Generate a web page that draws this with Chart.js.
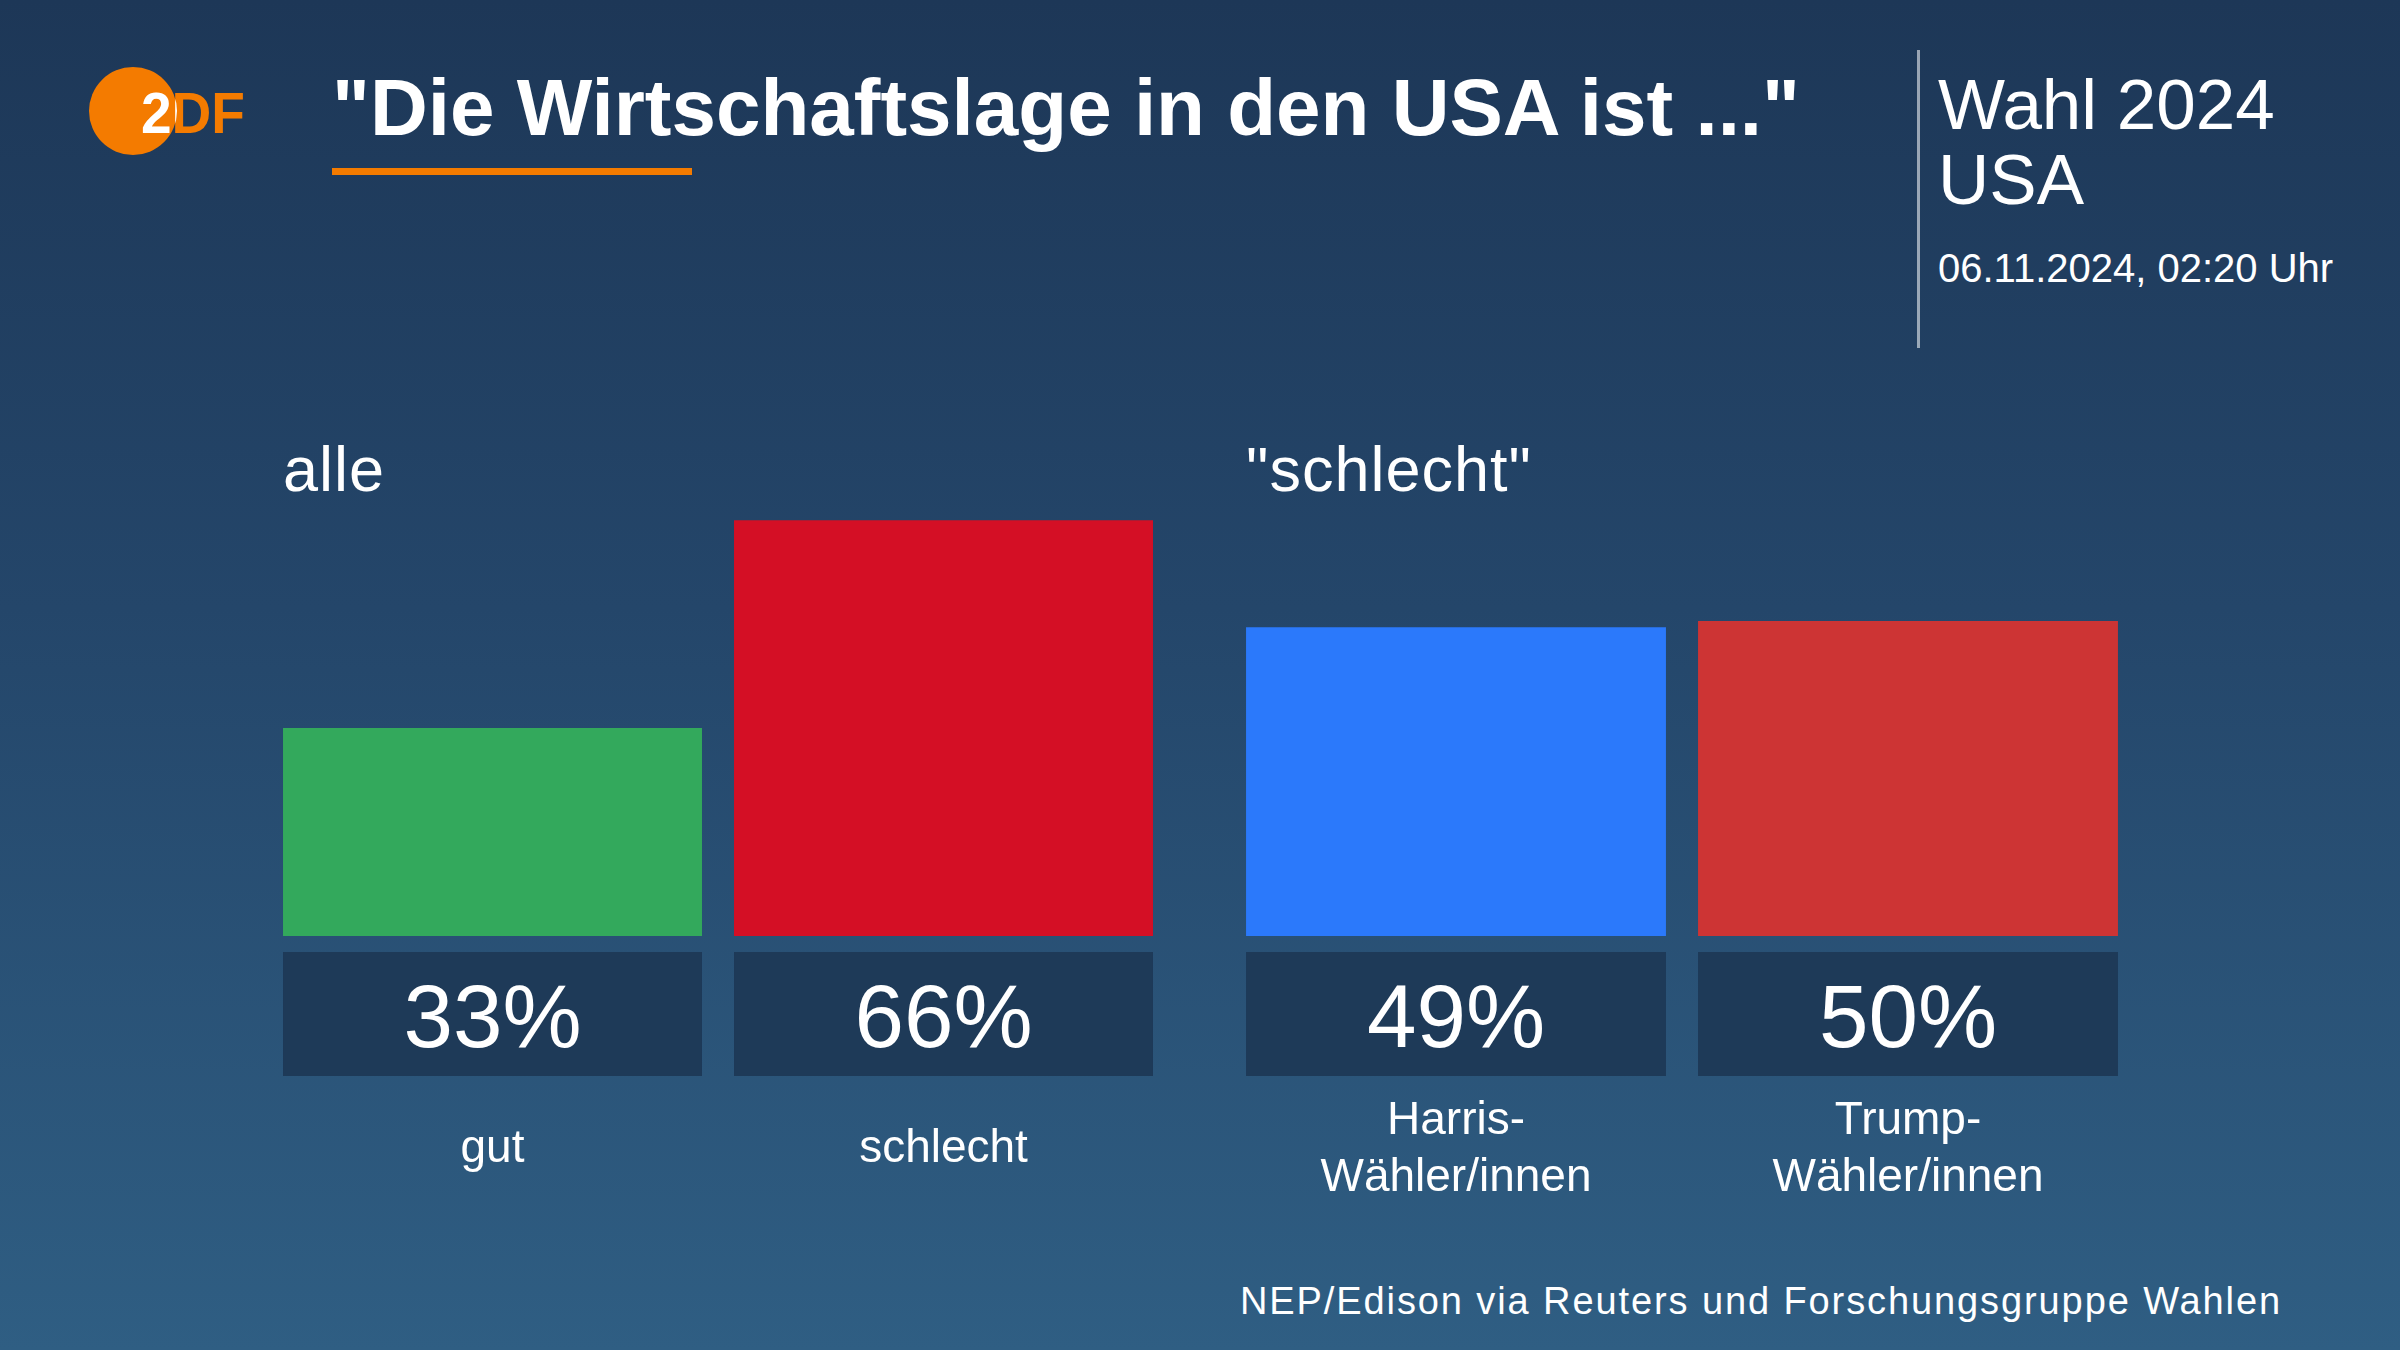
<!DOCTYPE html>
<html lang="de">
<head>
<meta charset="utf-8">
<title>Die Wirtschaftslage in den USA ist ...</title>
<script src="https://cdn.jsdelivr.net/npm/chart.js@4.4.1/dist/chart.umd.min.js"></script>
<style>
    html, body {
        margin: 0;
        padding: 0;
    }
    body {
        width: 2400px;
        height: 1350px;
        overflow: hidden;
        position: relative;
        background: linear-gradient(180deg, #1d3757 0%, #24466a 45%, #2f5e83 100%);
        font-family: "Liberation Sans", Arial, sans-serif;
        color: #fff;
    }
    canvas {
        position: absolute;
        left: 0;
        top: 0;
    }
    .txt {
        position: absolute;
        line-height: 1;
        white-space: nowrap;
    }
    #title {
        left: 332px;
        top: 68px;
        font-size: 80px;
        font-weight: bold;
    }
    #underline {
        position: absolute;
        left: 332px;
        top: 168px;
        width: 360px;
        height: 7px;
        background: #f47b00;
    }
    #divider {
        position: absolute;
        left: 1917px;
        top: 50px;
        width: 3px;
        height: 298px;
        background: rgba(255, 255, 255, 0.55);
    }
    #wahl { left: 1938px; top: 69px; font-size: 71px; }
    #usa { left: 1938px; top: 144px; font-size: 71px; }
    #date { left: 1938px; top: 248px; font-size: 40px; }
    #source {
        right: 118px;
        top: 1282px;
        font-size: 38px;
        letter-spacing: 1.9px;
    }
</style>
</head>
<body>

<svg width="300" height="200" style="position:absolute;left:0;top:0">
    <defs>
        <clipPath id="logoClip"><circle cx="133" cy="111" r="44"></circle></clipPath>
    </defs>
    <circle cx="133" cy="111" r="44" fill="#f47b00"></circle>
    <text x="141" y="133" font-family="Liberation Sans" font-weight="bold" font-size="58"
          fill="#f47b00" textLength="104" lengthAdjust="spacingAndGlyphs">2DF</text>
    <text x="141" y="133" font-family="Liberation Sans" font-weight="bold" font-size="58"
          fill="#ffffff" textLength="104" lengthAdjust="spacingAndGlyphs" clip-path="url(#logoClip)">2DF</text>
</svg>

<div id="title" class="txt">"Die Wirtschaftslage in den USA ist ..."</div>
<div id="underline"></div>
<div id="divider"></div>
<div id="wahl" class="txt">Wahl 2024</div>
<div id="usa" class="txt">USA</div>
<div id="date" class="txt">06.11.2024, 02:20 Uhr</div>
<div id="source" class="txt">NEP/Edison via Reuters und Forschungsgruppe Wahlen</div>

<canvas id="chart-all" width="2400" height="1350"></canvas>
<canvas id="chart-bad" width="2400" height="1350"></canvas>

<script>
// data
const groupTitles = ["alle", "\"schlecht\""];

const allLabels = ["gut", "schlecht"];
const allValues = [33, 66];
const allColors = ["#33a95c", "#d40f25"];

const badLabels = [["Harris-", "Wähler/innen"], ["Trump-", "Wähler/innen"]];
const badValues = [49, 50];
const badColors = ["#2b79fb", "#cd3434"];

const BOX_COLOR = "#1e3a58";
const FONT = "\"Liberation Sans\", Arial, sans-serif";

// value boxes, labels under the boxes and the group heading
const boxPlugin = {
    id: "boxes",
    afterDatasetsDraw(chart, args, opts) {
        const ctx = chart.ctx;
        const meta = chart.getDatasetMeta(0);
        const yBottom = chart.scales.y.getPixelForValue(0);
        const values = chart.data.datasets[0].data;
        const labels = chart.data.labels;

        ctx.save();
        meta.data.forEach((bar, i) => {
            const left = bar.x - bar.width / 2;

            // dark box with the percentage
            ctx.fillStyle = BOX_COLOR;
            ctx.fillRect(left, yBottom + 16, bar.width, 124);

            ctx.fillStyle = "#ffffff";
            ctx.textAlign = "center";
            ctx.textBaseline = "alphabetic";
            ctx.font = `89px ${FONT}`;
            ctx.fillText(`${values[i]}%`, bar.x, yBottom + 111);

            // category label, one or two lines
            const lines = Array.isArray(labels[i]) ? labels[i] : [labels[i]];
            ctx.font = `46px ${FONT}`;
            lines.forEach((line, k) => {
                const y = yBottom + 226 + (k - (lines.length - 1) / 2) * 57;
                ctx.fillText(line, bar.x, y);
            });
        });

        // group heading above the bars
        const first = meta.data[0];
        ctx.textAlign = "left";
        ctx.font = `63px ${FONT}`;
        ctx.letterSpacing = "1px";
        ctx.fillText(opts.title, first.x - first.width / 2, yBottom - 445);
        ctx.restore();
    }
};

function makeChart(id, labels, values, colors, title, padLeft, padRight) {
    const ctx = document.getElementById(id).getContext("2d");
    return new Chart(ctx, {
        type: "bar",
        data: {
            labels: labels,
            datasets: [{
                data: values,
                backgroundColor: colors,
                borderWidth: 0,
                categoryPercentage: 1,
                barPercentage: 0.929
            }]
        },
        options: {
            responsive: false,
            animation: false,
            devicePixelRatio: 1,
            layout: {
                padding: { left: padLeft, right: padRight, top: 306, bottom: 414 }
            },
            scales: {
                x: { display: false },
                y: { display: false, min: 0, max: 100 }
            },
            plugins: {
                legend: { display: false },
                tooltip: { enabled: false },
                boxes: { title: title }
            }
        },
        plugins: [boxPlugin]
    });
}

makeChart("chart-all", allLabels, allValues, allColors, groupTitles[0], 267, 1231);
makeChart("chart-bad", badLabels, badValues, badColors, groupTitles[1], 1230, 266);
</script>
</body>
</html>
